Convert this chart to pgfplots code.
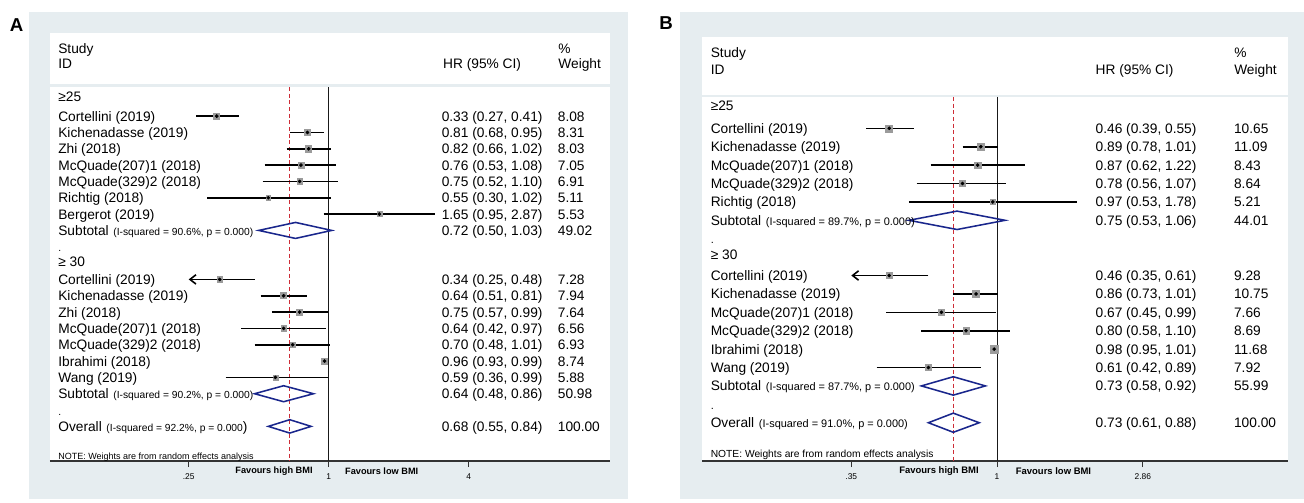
\documentclass[border=0pt]{standalone}
\usepackage{pgfplots}
\pgfplotsset{compat=1.18}
\usepackage{pgfplotstable}
\usepackage{fontspec}
\setmainfont{Liberation Sans}
\usetikzlibrary{arrows.meta}
\definecolor{bgc}{RGB}{230,237,240}
\definecolor{navy}{RGB}{25,38,140}
\definecolor{dred}{RGB}{205,45,55}
\definecolor{boxg}{RGB}{155,155,155}
\newcommand{\fmain}{\fontsize{10.3}{12}\selectfont}
\newcommand{\fsA}{\fontsize{7.7}{9}\selectfont}
\newcommand{\fsB}{\fontsize{8.2}{9}\selectfont}

\pgfplotstableread{
y hr w
-1 0.33 8.08
-2 0.81 8.31
-3 0.82 8.03
-4 0.76 7.05
-5 0.75 6.91
-6 0.55 5.11
-7 1.65 5.53
-11 0.34 7.28
-12 0.64 7.94
-13 0.75 7.64
-14 0.64 6.56
-15 0.70 6.93
-16 0.96 8.74
-17 0.59 5.88
}\studyA

\pgfplotstableread{
y hr w
-1 0.46 10.65
-2 0.89 11.09
-3 0.87 8.43
-4 0.78 8.64
-5 0.97 5.21
-9 0.46 9.28
-10 0.86 10.75
-11 0.67 7.66
-12 0.80 8.69
-13 0.98 11.68
-14 0.61 7.92
}\studyB

\tikzset{lab/.style={anchor=base west, inner sep=0pt, yshift=-3.75pt, font=\fmain},
  ci/.style={black, line width=1.2pt},
  dia/.style={navy, line width=1.15pt, line join=miter},
  vref/.style={black!90, line width=0.75pt},
  rref/.style={dred, line width=1pt, dash pattern=on 3pt off 2pt},
  arr/.style={black, line width=1.2pt, -{Straight Barb[length=4.5pt,width=7pt]}}}

\begin{document}
\begin{tikzpicture}
\begin{scope}[x=0.75pt,y=-0.75pt]
\path (0,0) rectangle (1304,503);
\fill[bgc] (29,12) rectangle (628,499);
\fill[bgc] (680,12) rectangle (1304,499);
\fill[white] (50,33) rectangle (610,461);
\fill[white] (702,36.7) rectangle (1288,461);
\draw[bgc, line width=1.6pt] (50,85.5) -- (610,85.5);
\draw[bgc, line width=1.6pt] (702,96) -- (1288,96);
\node[font=\bfseries\fontsize{14}{14}\selectfont] at (16.6,25) {A};
\node[font=\bfseries\fontsize{14}{14}\selectfont] at (666,23.5) {B};
\end{scope}

% ---------------- Panel A ----------------
\begin{axis}[
  scale only axis, xmode=log,
  axis x line*=bottom, axis y line=none,
  x axis line style={-, line width=1pt, black!80},
  xminorticks=false,
  tick align=outside, major tick length=4.5pt,
  xtick style={black!80, line width=0.7pt},
  xticklabel style={font=\fontsize{6.3}{7}\selectfont, yshift=-1.5pt},
  ytick=\empty, clip=false,
  at={(37.5pt,-345.75pt)}, anchor=south west,
  width=420pt, height=321pt,
  xmin=0.06333, xmax=16.202, ymin=-22.12, ymax=4.09,
  xtick={0.25,1,4}, xticklabels={.25,1,4}]
\addplot[scatter, only marks, mark=square*,
    scatter/use mapped color={draw=boxg, fill=boxg},
    visualization depends on={0.8*sqrt(\thisrow{w}) \as \msz},
    scatter/@pre marker code/.append style={/tikz/mark size=\msz}] table[x=hr,y=y] {\studyA};
\addplot[vref] coordinates {(1,0.78) (1,-22.12)};
\addplot[rref] coordinates {(0.68,0.78) (0.68,-22.12)};
\addplot[ci] coordinates {(0.27,-1) (0.41,-1)};
\addplot[ci] coordinates {(0.68,-2) (0.95,-2)};
\addplot[ci] coordinates {(0.66,-3) (1.02,-3)};
\addplot[ci] coordinates {(0.53,-4) (1.08,-4)};
\addplot[ci] coordinates {(0.52,-5) (1.10,-5)};
\addplot[ci] coordinates {(0.30,-6) (1.02,-6)};
\addplot[ci] coordinates {(0.95,-7) (2.87,-7)};
\addplot[arr] coordinates {(0.48,-11) (0.25,-11)};
\addplot[ci] coordinates {(0.51,-12) (0.81,-12)};
\addplot[ci] coordinates {(0.57,-13) (0.99,-13)};
\addplot[ci] coordinates {(0.42,-14) (0.97,-14)};
\addplot[ci] coordinates {(0.48,-15) (1.01,-15)};
\addplot[ci] coordinates {(0.93,-16) (0.99,-16)};
\addplot[ci] coordinates {(0.36,-17) (0.99,-17)};
\addplot[only marks, mark=*, mark size=1.15pt, black] table[x=hr,y=y] {\studyA};
\addplot[dia] coordinates {(0.50,-8) (0.72,-7.51) (1.03,-8) (0.72,-8.49)} --cycle;
\addplot[dia] coordinates {(0.48,-18) (0.64,-17.51) (0.86,-18) (0.64,-18.49)} --cycle;
\addplot[dia] coordinates {(0.55,-20) (0.68,-19.59) (0.84,-20) (0.68,-20.41)} --cycle;

\node[lab] at (axis cs:0.0686,3.17) {Study};
\node[lab] at (axis cs:0.0686,2.25) {ID};
\node[lab] at (axis cs:3.10,2.25) {HR (95\% CI)};
\node[lab] at (axis cs:9.70,3.17) {\%};
\node[lab] at (axis cs:9.70,2.25) {Weight};

\node[lab] at (axis cs:0.0686,0.19) {≥25};
\node[lab] at (axis cs:0.0686,-1) {Cortellini (2019)};
\node[lab] at (axis cs:0.0686,-2) {Kichenadasse (2019)};
\node[lab] at (axis cs:0.0686,-3) {Zhi (2018)};
\node[lab] at (axis cs:0.0686,-4) {McQuade(207)1 (2018)};
\node[lab] at (axis cs:0.0686,-5) {McQuade(329)2 (2018)};
\node[lab] at (axis cs:0.0686,-6) {Richtig (2018)};
\node[lab] at (axis cs:0.0686,-7) {Bergerot (2019)};
\node[lab] at (axis cs:0.0686,-8) {Subtotal\hspace{3.5pt}{\fsA(I-squared = 90.6\%, p = 0.000)}};
\node[lab, font=\fsA] at (axis cs:0.0686,-9) {.};
\node[lab] at (axis cs:0.0686,-9.91) {≥ 30};
\node[lab] at (axis cs:0.0686,-11) {Cortellini (2019)};
\node[lab] at (axis cs:0.0686,-12) {Kichenadasse (2019)};
\node[lab] at (axis cs:0.0686,-13) {Zhi (2018)};
\node[lab] at (axis cs:0.0686,-14) {McQuade(207)1 (2018)};
\node[lab] at (axis cs:0.0686,-15) {McQuade(329)2 (2018)};
\node[lab] at (axis cs:0.0686,-16) {Ibrahimi (2018)};
\node[lab] at (axis cs:0.0686,-17) {Wang (2019)};
\node[lab] at (axis cs:0.0686,-18) {Subtotal\hspace{3.5pt}{\fsA(I-squared = 90.2\%, p = 0.000)}};
\node[lab, font=\fsA] at (axis cs:0.0686,-19) {.};
\node[lab] at (axis cs:0.0686,-20) {Overall\hspace{3.5pt}{\fsA(I-squared = 92.2\%, p = 0.000}{)}};
\node[lab, font=\fontsize{6.75}{8}\selectfont] at (axis cs:0.0686,-21.75) {NOTE: Weights are from random effects analysis};

\node[lab] at (axis cs:3.055,-1) {0.33 (0.27, 0.41)};
\node[lab] at (axis cs:3.055,-2) {0.81 (0.68, 0.95)};
\node[lab] at (axis cs:3.055,-3) {0.82 (0.66, 1.02)};
\node[lab] at (axis cs:3.055,-4) {0.76 (0.53, 1.08)};
\node[lab] at (axis cs:3.055,-5) {0.75 (0.52, 1.10)};
\node[lab] at (axis cs:3.055,-6) {0.55 (0.30, 1.02)};
\node[lab] at (axis cs:3.055,-7) {1.65 (0.95, 2.87)};
\node[lab] at (axis cs:3.055,-8) {0.72 (0.50, 1.03)};
\node[lab] at (axis cs:3.055,-11) {0.34 (0.25, 0.48)};
\node[lab] at (axis cs:3.055,-12) {0.64 (0.51, 0.81)};
\node[lab] at (axis cs:3.055,-13) {0.75 (0.57, 0.99)};
\node[lab] at (axis cs:3.055,-14) {0.64 (0.42, 0.97)};
\node[lab] at (axis cs:3.055,-15) {0.70 (0.48, 1.01)};
\node[lab] at (axis cs:3.055,-16) {0.96 (0.93, 0.99)};
\node[lab] at (axis cs:3.055,-17) {0.59 (0.36, 0.99)};
\node[lab] at (axis cs:3.055,-18) {0.64 (0.48, 0.86)};
\node[lab] at (axis cs:3.055,-20) {0.68 (0.55, 0.84)};

\node[lab] at (axis cs:9.644,-1) {8.08};
\node[lab] at (axis cs:9.644,-2) {8.31};
\node[lab] at (axis cs:9.644,-3) {8.03};
\node[lab] at (axis cs:9.644,-4) {7.05};
\node[lab] at (axis cs:9.644,-5) {6.91};
\node[lab] at (axis cs:9.644,-6) {5.11};
\node[lab] at (axis cs:9.644,-7) {5.53};
\node[lab] at (axis cs:9.644,-8) {49.02};
\node[lab] at (axis cs:9.644,-11) {7.28};
\node[lab] at (axis cs:9.644,-12) {7.94};
\node[lab] at (axis cs:9.644,-13) {7.64};
\node[lab] at (axis cs:9.644,-14) {6.56};
\node[lab] at (axis cs:9.644,-15) {6.93};
\node[lab] at (axis cs:9.644,-16) {8.74};
\node[lab] at (axis cs:9.644,-17) {5.88};
\node[lab] at (axis cs:9.644,-18) {50.98};
\node[lab] at (axis cs:9.644,-20) {100.00};

\node[font=\bfseries\fontsize{6.9}{8}\selectfont, inner sep=0pt, yshift=-7.5pt] at (axis cs:0.5818,-22.12) {Favours high BMI};
\node[font=\bfseries\fontsize{6.9}{8}\selectfont, inner sep=0pt, yshift=-7.5pt] at (axis cs:1.690,-22.12) {Favours low BMI};
\end{axis}

% ---------------- Panel B ----------------
\begin{axis}[
  scale only axis, xmode=log,
  axis x line*=bottom, axis y line=none,
  x axis line style={-, line width=1pt, black!80},
  xminorticks=false,
  tick align=outside, major tick length=4.5pt,
  xtick style={black!80, line width=0.7pt},
  xticklabel style={font=\fontsize{6.3}{7}\selectfont, yshift=-1.5pt},
  ytick=\empty, clip=false,
  at={(526.5pt,-345.75pt)}, anchor=south west,
  width=439.5pt, height=318.25pt,
  xmin=0.11938, xmax=8.138, ymin=-19.08, ymax=3.98,
  xtick={0.35,1,2.86}, xticklabels={.35,1,2.86}]
\addplot[scatter, only marks, mark=square*,
    scatter/use mapped color={draw=boxg, fill=boxg},
    visualization depends on={0.8*sqrt(\thisrow{w}) \as \msz},
    scatter/@pre marker code/.append style={/tikz/mark size=\msz}] table[x=hr,y=y] {\studyB};
\addplot[vref] coordinates {(1,0.71) (1,-19.08)};
\addplot[rref] coordinates {(0.73,0.71) (0.73,-19.08)};
\addplot[ci] coordinates {(0.39,-1) (0.55,-1)};
\addplot[ci] coordinates {(0.78,-2) (1.01,-2)};
\addplot[ci] coordinates {(0.62,-3) (1.22,-3)};
\addplot[ci] coordinates {(0.56,-4) (1.07,-4)};
\addplot[ci] coordinates {(0.53,-5) (1.78,-5)};
\addplot[arr] coordinates {(0.61,-9) (0.35,-9)};
\addplot[ci] coordinates {(0.73,-10) (1.01,-10)};
\addplot[ci] coordinates {(0.45,-11) (0.99,-11)};
\addplot[ci] coordinates {(0.58,-12) (1.10,-12)};
\addplot[ci] coordinates {(0.95,-13) (1.01,-13)};
\addplot[ci] coordinates {(0.42,-14) (0.89,-14)};
\addplot[only marks, mark=*, mark size=1.15pt, black] table[x=hr,y=y] {\studyB};
\addplot[dia] coordinates {(0.53,-6) (0.75,-5.5) (1.06,-6) (0.75,-6.5)} --cycle;
\addplot[dia] coordinates {(0.58,-15) (0.73,-14.5) (0.92,-15) (0.73,-15.5)} --cycle;
\addplot[dia] coordinates {(0.61,-17) (0.73,-16.48) (0.88,-17) (0.73,-17.52)} --cycle;

\node[lab] at (axis cs:0.12695,3.11) {Study};
\node[lab] at (axis cs:0.12695,2.17) {ID};
\node[lab] at (axis cs:2.0318,2.17) {HR (95\% CI)};
\node[lab] at (axis cs:5.515,3.11) {\%};
\node[lab] at (axis cs:5.515,2.17) {Weight};

\node[lab] at (axis cs:0.12695,0.22) {≥25};
\node[lab] at (axis cs:0.12695,-1) {Cortellini (2019)};
\node[lab] at (axis cs:0.12695,-2) {Kichenadasse (2019)};
\node[lab] at (axis cs:0.12695,-3) {McQuade(207)1 (2018)};
\node[lab] at (axis cs:0.12695,-4) {McQuade(329)2 (2018)};
\node[lab] at (axis cs:0.12695,-5) {Richtig (2018)};
\node[lab] at (axis cs:0.12695,-6) {Subtotal\hspace{3.5pt}{\fsB(I-squared = 89.7\%, p = 0.000)}};
\node[lab, font=\fsB] at (axis cs:0.12695,-7) {.};
\node[lab] at (axis cs:0.12695,-7.88) {≥ 30};
\node[lab] at (axis cs:0.12695,-9) {Cortellini (2019)};
\node[lab] at (axis cs:0.12695,-10) {Kichenadasse (2019)};
\node[lab] at (axis cs:0.12695,-11) {McQuade(207)1 (2018)};
\node[lab] at (axis cs:0.12695,-12) {McQuade(329)2 (2018)};
\node[lab] at (axis cs:0.12695,-13) {Ibrahimi (2018)};
\node[lab] at (axis cs:0.12695,-14) {Wang (2019)};
\node[lab] at (axis cs:0.12695,-15) {Subtotal\hspace{3.5pt}{\fsB(I-squared = 87.7\%, p = 0.000)}};
\node[lab, font=\fsB] at (axis cs:0.12695,-16) {.};
\node[lab] at (axis cs:0.12695,-17) {Overall\hspace{3.5pt}{\fsB(I-squared = 91.0\%, p = 0.000)}};
\node[lab, font=\fontsize{7.7}{9}\selectfont] at (axis cs:0.12695,-18.6) {NOTE: Weights are from random effects analysis};

\node[lab] at (axis cs:2.0318,-1) {0.46 (0.39, 0.55)};
\node[lab] at (axis cs:2.0318,-2) {0.89 (0.78, 1.01)};
\node[lab] at (axis cs:2.0318,-3) {0.87 (0.62, 1.22)};
\node[lab] at (axis cs:2.0318,-4) {0.78 (0.56, 1.07)};
\node[lab] at (axis cs:2.0318,-5) {0.97 (0.53, 1.78)};
\node[lab] at (axis cs:2.0318,-6) {0.75 (0.53, 1.06)};
\node[lab] at (axis cs:2.0318,-9) {0.46 (0.35, 0.61)};
\node[lab] at (axis cs:2.0318,-10) {0.86 (0.73, 1.01)};
\node[lab] at (axis cs:2.0318,-11) {0.67 (0.45, 0.99)};
\node[lab] at (axis cs:2.0318,-12) {0.80 (0.58, 1.10)};
\node[lab] at (axis cs:2.0318,-13) {0.98 (0.95, 1.01)};
\node[lab] at (axis cs:2.0318,-14) {0.61 (0.42, 0.89)};
\node[lab] at (axis cs:2.0318,-15) {0.73 (0.58, 0.92)};
\node[lab] at (axis cs:2.0318,-17) {0.73 (0.61, 0.88)};

\node[lab] at (axis cs:5.508,-1) {10.65};
\node[lab] at (axis cs:5.508,-2) {11.09};
\node[lab] at (axis cs:5.508,-3) {8.43};
\node[lab] at (axis cs:5.508,-4) {8.64};
\node[lab] at (axis cs:5.508,-5) {5.21};
\node[lab] at (axis cs:5.508,-6) {44.01};
\node[lab] at (axis cs:5.508,-9) {9.28};
\node[lab] at (axis cs:5.508,-10) {10.75};
\node[lab] at (axis cs:5.508,-11) {7.66};
\node[lab] at (axis cs:5.508,-12) {8.69};
\node[lab] at (axis cs:5.508,-13) {11.68};
\node[lab] at (axis cs:5.508,-14) {7.92};
\node[lab] at (axis cs:5.508,-15) {55.99};
\node[lab] at (axis cs:5.508,-17) {100.00};

\node[font=\bfseries\fontsize{7.1}{8}\selectfont, inner sep=0pt, yshift=-7.5pt] at (axis cs:0.6584,-19.08) {Favours high BMI};
\node[font=\bfseries\fontsize{7.1}{8}\selectfont, inner sep=0pt, yshift=-7.5pt] at (axis cs:1.5024,-19.08) {Favours low BMI};
\end{axis}
\end{tikzpicture}
\end{document}
